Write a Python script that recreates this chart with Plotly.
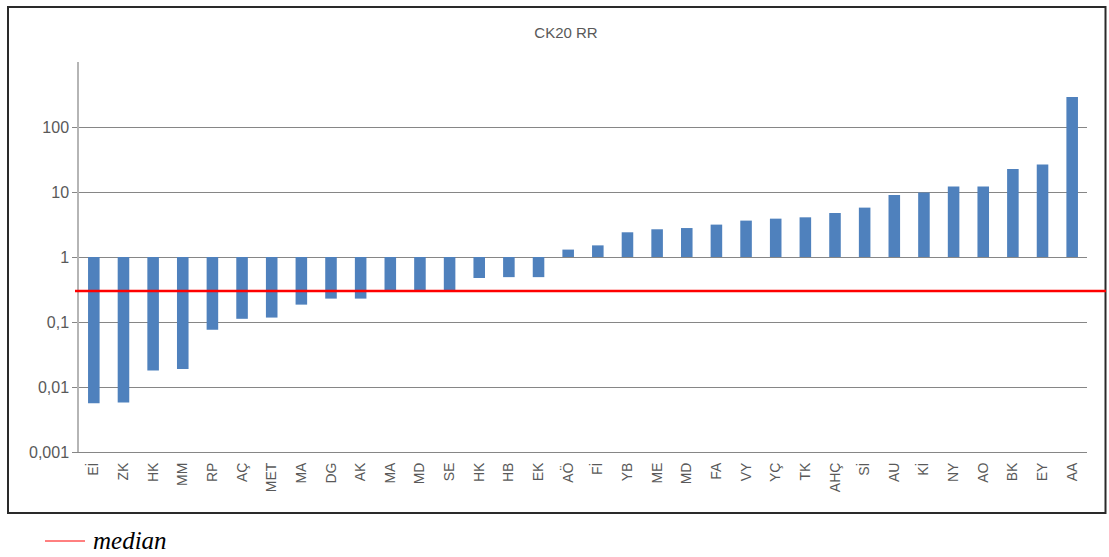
import plotly.graph_objects as go

# Relative risk (CK20) per case, plotted on a log scale around RR = 1
labels = ["Eİ", "ZK", "HK", "MM", "RP", "AÇ", "MET", "MA", "DG", "AK", "MA", "MD",
          "SE", "HK", "HB", "EK", "AÖ", "Fİ", "YB", "ME", "MD", "FA", "VY", "YÇ",
          "TK", "AHÇ", "Sİ", "AU", "Kİ", "NY", "AO", "BK", "EY", "AA"]
rr_values = [0.0056, 0.0058, 0.018, 0.019, 0.076, 0.112, 0.117, 0.185, 0.229, 0.229,
             0.29, 0.307, 0.307, 0.475, 0.49, 0.49, 1.30, 1.51, 2.40, 2.67, 2.79,
             3.15, 3.63, 3.89, 4.08, 4.75, 5.75, 9.0, 9.8, 12.2, 12.2, 22.6, 26.4, 290]
median_rr = 0.30

y_tick_vals = [0.001, 0.01, 0.1, 1, 10, 100]
y_tick_text = ["0,001", "0,01", "0,1", "1", "10", "100"]

positions = list(range(len(labels)))
baseline = 1

# geometry of the plotting area (px) used to place decorations in paper units
L, R, T, B = 79, 22, 62, 105
W, H = 1109, 557
pw, ph = W - L - R, H - T - B


def px_x(x):
    return (x - L) / pw


def px_y(y):
    return (H - B - y) / ph


grey = "#595959"
grid = "#868686"

fig = go.Figure()
fig.add_trace(go.Bar(
    x=positions,
    y=[v - baseline for v in rr_values],
    base=baseline,
    marker=dict(color="#4F81BD", line=dict(width=0)),
    width=0.39,
    showlegend=False,
    hoverinfo="skip",
))

shapes = []
# category-boundary ticks on the RR = 1 crossing line
for i in range(len(labels) + 1):
    shapes.append(dict(type="line", xref="x", yref="y", x0=i - 0.5, x1=i - 0.5,
                       ysizemode="pixel", yanchor=baseline, y0=0, y1=-5,
                       line=dict(color=grid, width=1)))
# median line
shapes.append(dict(type="line", xref="paper", yref="y", x0=px_x(75), x1=px_x(1106),
                   y0=median_rr, y1=median_rr, line=dict(color="#FF0000", width=2.5)))
# chart frame
shapes.append(dict(type="rect", xref="paper", yref="paper",
                   x0=px_x(8), x1=px_x(1105.5), y0=px_y(513), y1=px_y(7),
                   line=dict(color="#2a2a2a", width=2), fillcolor="rgba(0,0,0,0)", layer="below"))
# legend key
shapes.append(dict(type="line", xref="paper", yref="paper", x0=px_x(45), x1=px_x(85),
                   y0=px_y(541), y1=px_y(541), line=dict(color="#FF0000", width=1)))

fig.update_layout(
    width=W, height=H,
    margin=dict(l=L, r=R, t=T, b=B),
    paper_bgcolor="white", plot_bgcolor="white",
    font=dict(family="Liberation Sans, Arial, sans-serif", color=grey),
    title=dict(text="CK20 RR", x=566 / W, xanchor="center", y=1 - 33 / H, yanchor="middle",
               font=dict(size=15, color=grey)),
    shapes=shapes,
    bargap=0.6,
    annotations=[dict(text="<i>median</i>", xref="paper", yref="paper", x=px_x(91), y=px_y(540),
                      xanchor="left", yanchor="middle", showarrow=False,
                      font=dict(family="Liberation Serif, Times New Roman, serif", size=25,
                                color="black"))],
)

fig.update_xaxes(
    range=[-0.5, len(labels) - 0.5],
    tickmode="array", tickvals=positions, ticktext=labels,
    tickangle=-90, tickfont=dict(size=14, color=grey),
    showgrid=False, zeroline=False,
    showline=True, linecolor=grid, linewidth=1,
    ticks="", ticklabelstandoff=4,
)
fig.update_yaxes(
    type="log", range=[-3, 3],
    tickmode="array", tickvals=y_tick_vals, ticktext=y_tick_text,
    tickfont=dict(size=16, color=grey),
    showgrid=True, gridcolor=grid, gridwidth=1,
    showline=True, linecolor="#b5b5b5", linewidth=1.5,
    ticks="outside", ticklen=5, tickcolor=grid,
    zeroline=False,
)

fig.write_html("out.html")
